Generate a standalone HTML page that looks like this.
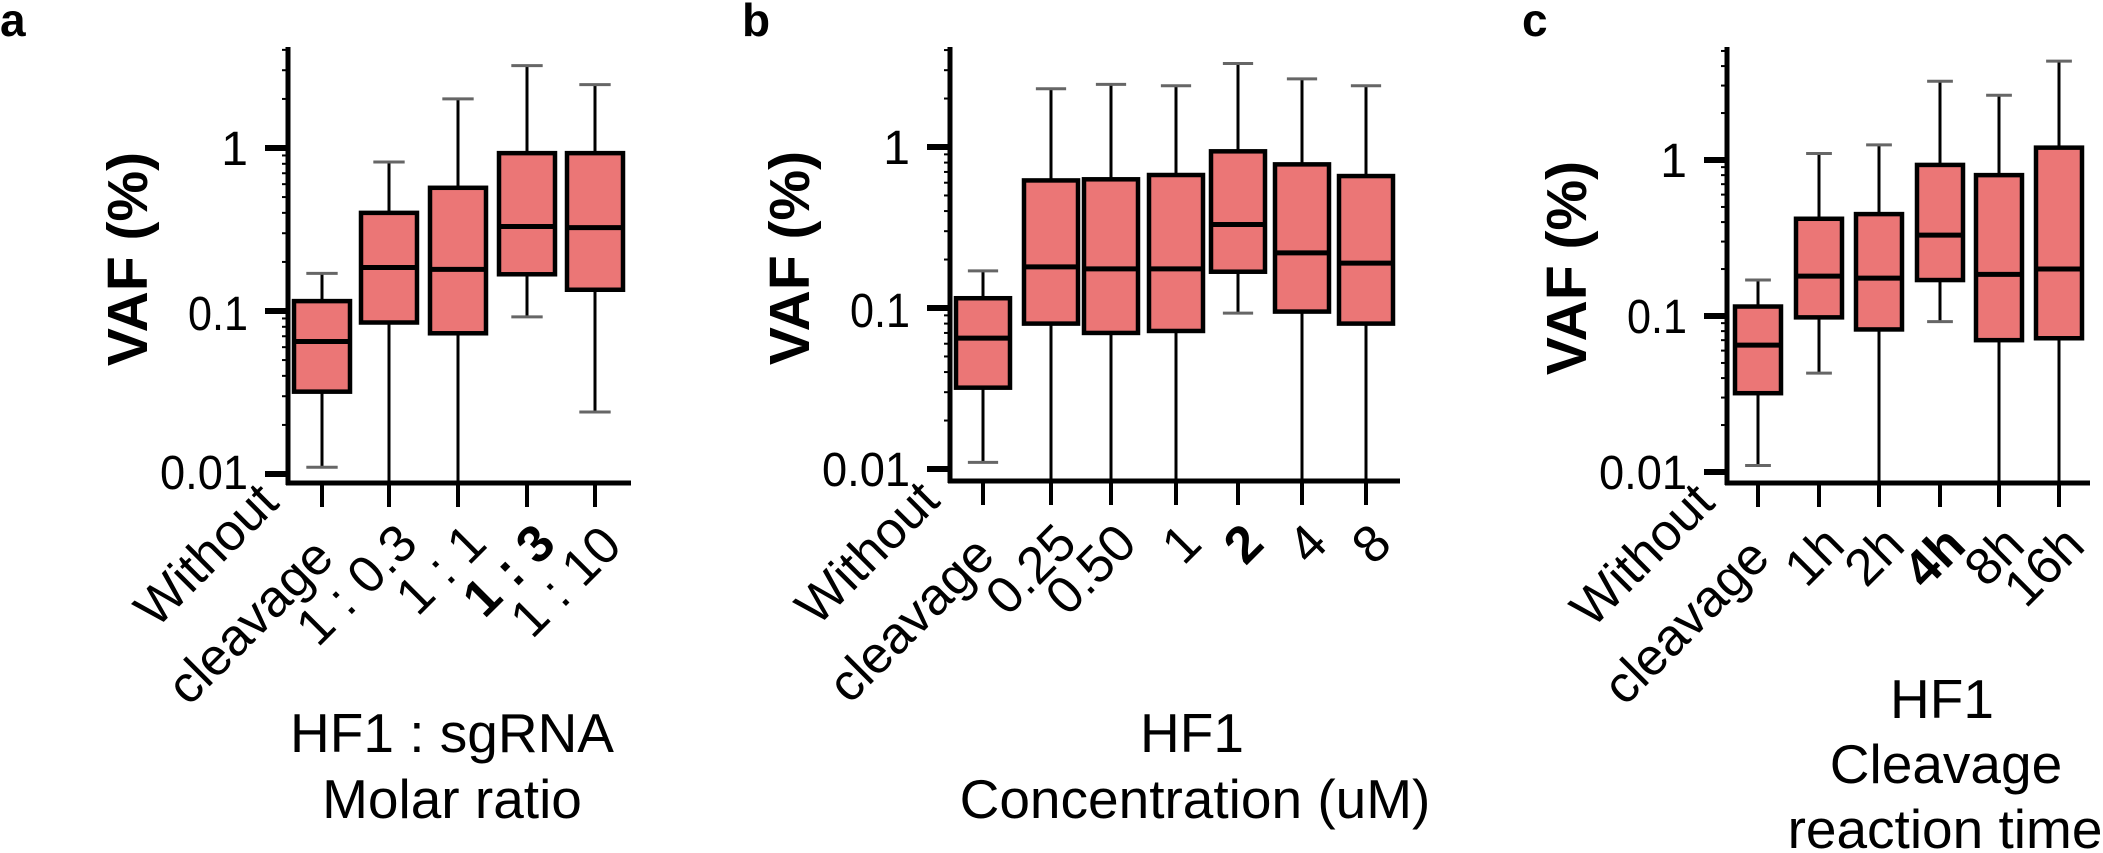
<!DOCTYPE html>
<html><head><meta charset="utf-8"><style>
html,body{margin:0;padding:0;background:#fff;overflow:hidden;}
svg{display:block;font-family:"Liberation Sans",Arial,sans-serif;}
</style></head><body>
<svg id="s" width="2103" height="853" viewBox="0 0 2103 853" xmlns="http://www.w3.org/2000/svg">
<g id="plots"></g>
<text x="0" y="36" font-size="46" font-weight="bold">a</text>
<text x="742" y="36" font-size="46" font-weight="bold">b</text>
<text x="1522" y="36" font-size="46" font-weight="bold">c</text>
<text transform="translate(147,259) rotate(-90)" font-size="57" font-weight="bold" text-anchor="middle">VAF (%)</text>
<text transform="translate(809,258) rotate(-90)" font-size="57" font-weight="bold" text-anchor="middle">VAF (%)</text>
<text transform="translate(1586,268) rotate(-90)" font-size="57" font-weight="bold" text-anchor="middle">VAF (%)</text>
<g font-size="48" text-anchor="end">
<text x="248" y="165">1</text><text x="248" y="330" textLength="60" lengthAdjust="spacingAndGlyphs">0.1</text><text x="248" y="489" textLength="88" lengthAdjust="spacingAndGlyphs">0.01</text>
<text x="910" y="164">1</text><text x="910" y="327" textLength="60" lengthAdjust="spacingAndGlyphs">0.1</text><text x="910" y="486" textLength="88" lengthAdjust="spacingAndGlyphs">0.01</text>
<text x="1687" y="177">1</text><text x="1687" y="333" textLength="60" lengthAdjust="spacingAndGlyphs">0.1</text><text x="1687" y="489" textLength="88" lengthAdjust="spacingAndGlyphs">0.01</text>
</g>
<g font-size="52">
<text transform="translate(336,560) rotate(-45)" text-anchor="end"><tspan x="0" dy="-1.5em">Without</tspan><tspan x="0" dy="1.5em">cleavage</tspan></text>
<text transform="translate(420,546) rotate(-45)" text-anchor="end">1 : 0.3</text>
<text transform="translate(489,546) rotate(-45)" text-anchor="end">1 : 1</text>
<text transform="translate(558,546) rotate(-45)" text-anchor="end" font-weight="bold">1 : 3</text>
<text transform="translate(624,548) rotate(-45)" text-anchor="end">1 : 10</text>

<text transform="translate(997,558) rotate(-45)" text-anchor="end"><tspan x="0" dy="-1.5em">Without</tspan><tspan x="0" dy="1.5em">cleavage</tspan></text>
<text transform="translate(1079,546) rotate(-45)" text-anchor="end">0.25</text>
<text transform="translate(1139,546) rotate(-45)" text-anchor="end">0.50</text>
<text transform="translate(1204,546) rotate(-45)" text-anchor="end">1</text>
<text transform="translate(1266,546) rotate(-45)" text-anchor="end" font-weight="bold">2</text>
<text transform="translate(1330,546) rotate(-45)" text-anchor="end">4</text>
<text transform="translate(1394,546) rotate(-45)" text-anchor="end">8</text>

<text transform="translate(1772,560) rotate(-45)" text-anchor="end"><tspan x="0" dy="-1.5em">Without</tspan><tspan x="0" dy="1.5em">cleavage</tspan></text>
<text transform="translate(1847,548) rotate(-45)" text-anchor="end">1h</text>
<text transform="translate(1907,548) rotate(-45)" text-anchor="end">2h</text>
<text transform="translate(1968,548) rotate(-45)" text-anchor="end" font-weight="bold">4h</text>
<text transform="translate(2027,548) rotate(-45)" text-anchor="end">8h</text>
<text transform="translate(2087,548) rotate(-45)" text-anchor="end">16h</text>
</g>
<g font-size="55" text-anchor="middle">
<text x="452" y="752">HF1 : sgRNA</text>
<text x="452" y="818">Molar ratio</text>
<text x="1192" y="752">HF1</text>
<text x="1195" y="818">Concentration (uM)</text>
<text x="1942" y="718">HF1</text>
<text x="1946" y="783">Cleavage</text>
<text x="1945" y="848">reaction time</text>
</g>
</svg>
<script>
var NS="http://www.w3.org/2000/svg",G=document.getElementById("plots");
function el(t,a){var e=document.createElementNS(NS,t);for(var k in a)e.setAttribute(k,a[k]);G.appendChild(e);return e;}
function panel(p){
  var Y=function(v){return p.y1-p.dec*Math.log10(v);};
  var bottom=p.base;
  el("line",{x1:p.ax,y1:p.top,x2:p.ax,y2:bottom+2,stroke:"#000","stroke-width":5});
  el("line",{x1:p.ax-2,y1:bottom,x2:p.xend,y2:bottom,stroke:"#000","stroke-width":5});
  [1,0.1,0.01].forEach(function(v){el("line",{x1:p.ax-23,y1:Y(v),x2:p.ax,y2:Y(v),stroke:"#000","stroke-width":6});});
  [0.02,0.03,0.04,0.05,0.06,0.07,0.08,0.09,0.2,0.3,0.4,0.5,0.6,0.7,0.8,0.9,2,3,4,5,6,7,8,9].forEach(function(v){
    var y=Y(v); if(y>p.top&&y<bottom) el("line",{x1:p.ax-6,y1:y,x2:p.ax,y2:y,stroke:"#000","stroke-width":2});});
  p.data.forEach(function(d,i){
    var cx=p.cx[i],w=p.bw;
    el("line",{x1:cx,y1:bottom,x2:cx,y2:bottom+24,stroke:"#000","stroke-width":4});
    var lo=d[0]?Y(d[0]):bottom, hi=Y(d[4]);
    el("line",{x1:cx,y1:hi,x2:cx,y2:lo,stroke:"#000","stroke-width":3});
    el("line",{x1:cx-w*0.28,y1:hi,x2:cx+w*0.28,y2:hi,stroke:"#666","stroke-width":3});
    if(d[0]) el("line",{x1:cx-w*0.28,y1:lo,x2:cx+w*0.28,y2:lo,stroke:"#666","stroke-width":3});
    el("rect",{x:cx-w/2,y:Y(d[3]),width:w,height:Y(d[1])-Y(d[3]),fill:"#EB7676",stroke:"#000","stroke-width":4.5});
    el("line",{x1:cx-w/2,y1:Y(d[2]),x2:cx+w/2,y2:Y(d[2]),stroke:"#000","stroke-width":5});
  });
}
var base=[.011,.032,.065,.115,.17];
panel({ax:288,top:47,y1:148,dec:163,base:483,xend:631,bw:56,cx:[322,389,458,527,595],
 data:[base,[0,.085,.185,.4,.82],[0,.073,.18,.57,2.0],[.092,.168,.33,.93,3.2],[.024,.135,.325,.93,2.45]]});
panel({ax:950,top:47,y1:147,dec:161,base:481,xend:1400,bw:54,cx:[983,1051,1111,1176,1238,1302,1366],
 data:[base,[0,.08,.18,.62,2.3],[0,.07,.175,.63,2.45],[0,.072,.175,.67,2.4],[.093,.168,.33,.94,3.3],[0,.095,.22,.78,2.65],[0,.08,.19,.66,2.4]]});
panel({ax:1727,top:47,y1:160,dec:156,base:483,xend:2090,bw:46,cx:[1758,1819,1879,1940,1999,2059],
 data:[base,[.043,.098,.18,.42,1.1],[0,.082,.175,.45,1.25],[.092,.17,.33,.93,3.2],[0,.07,.185,.8,2.6],[0,.072,.2,1.2,4.3]]});
</script>
</body></html>
